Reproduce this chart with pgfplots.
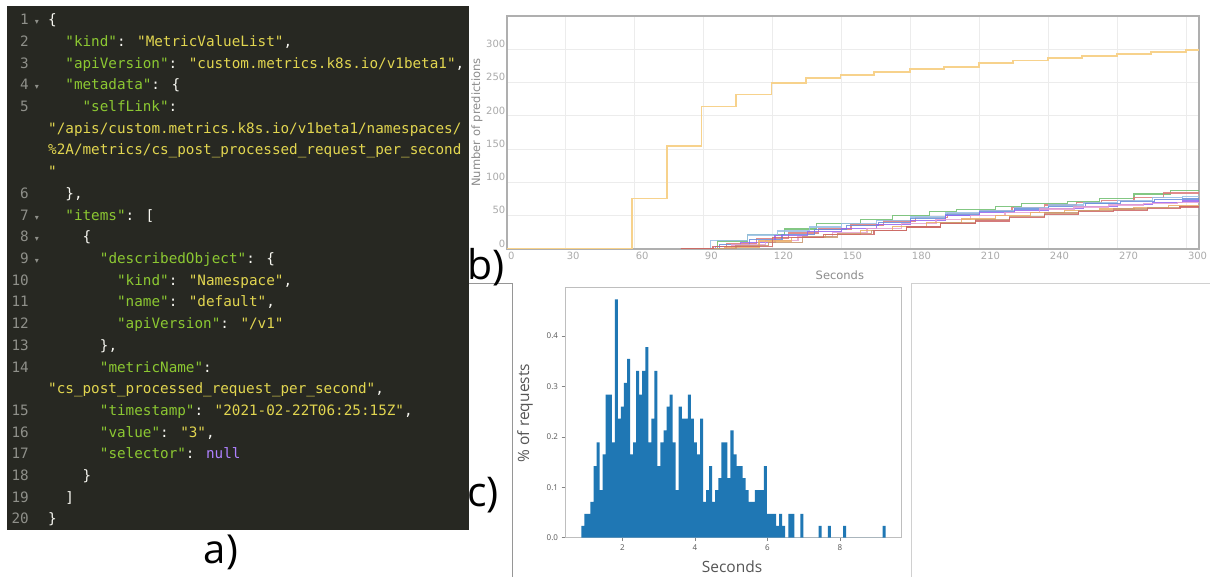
\documentclass[border=0pt]{standalone}
\usepackage{fontspec}
\usepackage{pgfplots}
\pgfplotsset{compat=1.18}
\setmainfont{DejaVu Sans}
\newfontfamily\codefont{DejaVu Sans Mono}
\newfontfamily\dejavu{DejaVu Sans}
\newfontfamily\opensans{Open Sans}
\definecolor{codebg}{HTML}{272822}
\definecolor{codekey}{RGB}{140,200,50}
\definecolor{codestr}{RGB}{226,214,80}
\definecolor{codenull}{RGB}{174,129,255}
\definecolor{codepun}{HTML}{F8F8F2}
\definecolor{codenum}{HTML}{8F908A}
\definecolor{frameA}{RGB}{150,150,150}
\definecolor{frameB}{RGB}{208,208,208}
\definecolor{btick}{RGB}{170,170,170}
\definecolor{blabel}{RGB}{140,140,140}
\definecolor{bspine}{RGB}{175,175,175}
\definecolor{bgrid}{RGB}{236,236,236}
\definecolor{cyell}{RGB}{247,210,140}
\definecolor{cgreen}{RGB}{110,190,110}
\definecolor{cred}{RGB}{220,120,120}
\definecolor{clblue}{RGB}{150,190,230}
\definecolor{cblue}{RGB}{100,140,220}
\definecolor{cpurple}{RGB}{150,100,240}
\definecolor{cpink}{RGB}{230,160,210}
\definecolor{corange}{RGB}{235,175,100}
\definecolor{cbrown}{RGB}{200,150,110}
\definecolor{cdred}{RGB}{205,100,100}
\definecolor{mplblue}{HTML}{1F77B4}
\definecolor{ctext}{RGB}{85,85,85}
\definecolor{cspine}{RGB}{190,190,190}
\newcommand{\K}[1]{\textcolor{codekey}{#1}}
\newcommand{\St}[1]{\textcolor{codestr}{#1}}
\newcommand{\Pu}[1]{\textcolor{codepun}{#1}}
\newcommand{\Nu}[1]{\textcolor{codenull}{#1}}
\newcommand{\cl}[3]{\node[anchor=base west,inner sep=0pt,font=\codefont\fontsize{14.3}{16}\selectfont] at (#2pt,-#1pt) {#3};}
\newcommand{\lnum}[2]{\node[anchor=base east,inner sep=0pt,font=\codefont\fontsize{14.3}{16}\selectfont,text=codenum] at (29pt,-#1pt) {#2};}
\newcommand{\fd}[1]{\node[anchor=base,inner sep=0pt,font=\dejavu\fontsize{8}{9}\selectfont,text=codenum] at (37pt,-#1pt) {▾};}
\begin{document}
\begin{tikzpicture}
\useasboundingbox[fill=white] (0pt,0pt) rectangle (1210pt,-577pt);
% ---------- panel a ----------
\fill[codebg] (7pt,-6pt) rectangle (469pt,-530pt);
\lnum{24.8}{1}\fd{24.8}\cl{24.8}{48}{\Pu{\{}}
\lnum{46.5}{2}\cl{46.5}{65.2}{\K{"kind"}\Pu{: }\St{"MetricValueList"}\Pu{,}}
\lnum{68.2}{3}\cl{68.2}{65.2}{\K{"apiVersion"}\Pu{: }\St{"custom.metrics.k8s.io/v1beta1"}\Pu{,}}
\lnum{89.9}{4}\fd{89.9}\cl{89.9}{65.2}{\K{"metadata"}\Pu{: \{}}
\lnum{111.6}{5}\cl{111.6}{82.4}{\K{"selfLink"}\Pu{:}}
\cl{133.3}{48}{\St{"/apis/custom.metrics.k8s.io/v1beta1/namespaces/}}
\cl{155.0}{48}{\St{\%2A/metrics/cs\_post\_processed\_request\_per\_second}}
\cl{176.7}{48}{\St{"}}
\lnum{198.4}{6}\cl{198.4}{65.2}{\Pu{\},}}
\lnum{220.1}{7}\fd{220.1}\cl{220.1}{65.2}{\K{"items"}\Pu{: [}}
\lnum{241.8}{8}\fd{241.8}\cl{241.8}{82.4}{\Pu{\{}}
\lnum{263.5}{9}\fd{263.5}\cl{263.5}{99.7}{\K{"describedObject"}\Pu{: \{}}
\lnum{285.2}{10}\cl{285.2}{116.9}{\K{"kind"}\Pu{: }\St{"Namespace"}\Pu{,}}
\lnum{306.9}{11}\cl{306.9}{116.9}{\K{"name"}\Pu{: }\St{"default"}\Pu{,}}
\lnum{328.6}{12}\cl{328.6}{116.9}{\K{"apiVersion"}\Pu{: }\St{"/v1"}}
\lnum{350.3}{13}\cl{350.3}{99.7}{\Pu{\},}}
\lnum{372.0}{14}\cl{372.0}{99.7}{\K{"metricName"}\Pu{:}}
\cl{393.7}{48}{\St{"cs\_post\_processed\_request\_per\_second"}\Pu{,}}
\lnum{415.4}{15}\cl{415.4}{99.7}{\K{"timestamp"}\Pu{: }\St{"2021-02-22T06:25:15Z"}\Pu{,}}
\lnum{437.1}{16}\cl{437.1}{99.7}{\K{"value"}\Pu{: }\St{"3"}\Pu{,}}
\lnum{458.8}{17}\cl{458.8}{99.7}{\K{"selector"}\Pu{: }\Nu{null}}
\lnum{480.5}{18}\cl{480.5}{82.4}{\Pu{\}}}
\lnum{502.2}{19}\cl{502.2}{65.2}{\Pu{]}}
\lnum{523.9}{20}\cl{523.9}{48}{\Pu{\}}}
\node[anchor=base,inner sep=0pt,font=\opensans\fontsize{40}{40}\selectfont] at (221pt,-563.5pt) {a)};
% ---------- frames ----------
\draw[frameA,line width=0.8pt] (469pt,-283pt) -- (512.7pt,-283pt) -- (512.7pt,-577pt);
\draw[frameB,line width=0.8pt] (911.7pt,-577pt) -- (911.7pt,-283pt) -- (1210pt,-283pt);
% ---------- panel b ----------
\begin{axis}[
  at={(507pt,-16pt)}, anchor=north west,
  scale only axis, width=692pt, height=233pt,
  xmin=4.5, xmax=305.3, ymin=0, ymax=350,
  xtick={30,60,...,300}, ytick={0,50,...,300},
  extra x ticks={4.5}, extra x tick labels={0},
  extra x tick style={grid=none},
  /pgf/number format/assume math mode=true,
  grid=major, grid style={bgrid, line width=0.8pt},
  major tick length=0pt,
  axis line style={bspine, line width=1.5pt},
  tick label style={font=\dejavu\fontsize{10}{12}\selectfont, text=btick},
  xticklabel style={anchor=north west, inner sep=1pt, yshift=-2pt},
  yticklabel style={anchor=south east, inner sep=1.5pt},
  xlabel={Seconds}, ylabel={Number of predictions},
  label style={font=\dejavu\fontsize{11.5}{13}\selectfont, text=blabel},
  xlabel style={at={(axis description cs:0.481,-0.112)}, anchor=center},
  ylabel style={at={(axis description cs:-0.0434,0.543)}, anchor=center},
  clip=true,
]
\addplot[const plot, cgreen, line width=1.2pt, opacity=0.85] coordinates {(80,0) (96,12) (109,22) (125,30) (139,38) (158,44) (172,50) (188,56) (200,59) (217,64) (228,68) (248,71.5) (262,75.6) (277,82.6) (293,88) (305.3,88)};
\addplot[const plot, cred, line width=1.2pt, opacity=0.85] coordinates {(80,0) (100,8) (113,16) (127,24) (140,30) (154,36) (168,42) (182,47) (196,53) (210,58) (224,62) (238,66) (252,70) (263,72.5) (277,77) (290,84) (305.3,84)};
\addplot[const plot, clblue, line width=1.2pt, opacity=0.85] coordinates {(80,0) (93,13) (109,21) (122,27) (136,33) (150,38) (165,43) (180,48) (195,54) (210,58) (225,62) (240,66) (255,69) (270,73) (285,77) (298,79) (305.3,79)};
\addplot[const plot, cblue, line width=1.2pt, opacity=0.85] coordinates {(80,0) (97,7) (110,14) (124,22) (138,29) (152,35) (166,40) (180,46) (195,51) (210,56) (225,60) (240,64) (256,68) (271,71) (286,74) (298,75) (305.3,75)};
\addplot[const plot, cpurple, line width=1.2pt, opacity=0.85] coordinates {(80,0) (95,4) (106,10) (121,20) (135,26) (150,31) (165,37) (180,43) (195,50) (210,55) (225,58) (240,61) (255,64) (270,67) (285,70) (298,72) (305.3,72)};
\addplot[const plot, cpink, line width=1.2pt, opacity=0.85] coordinates {(80,0) (102,6) (117,13) (131,19) (146,25) (161,31) (176,38) (191,44) (206,50) (221,55) (236,60) (251,63) (266,66) (281,68) (296,70) (305.3,70)};
\addplot[const plot, corange, line width=1.2pt, opacity=0.85] coordinates {(80,0) (99,3) (114,12) (128,17) (143,22) (158,28) (172,34) (187,40) (202,45) (217,50) (232,55) (247,58) (262,60) (277,62) (292,65) (305.3,65)};
\addplot[const plot, cbrown, line width=1.2pt, opacity=0.85] coordinates {(80,0) (104,5) (118,10) (133,18) (148,23) (163,28) (178,33) (193,39) (208,44) (223,49) (238,54) (253,58) (268,60) (283,62) (297,64) (305.3,64)};
\addplot[const plot, cdred, line width=1.2pt, opacity=0.85] coordinates {(80,0) (94,4) (120,17) (142,22) (164,28) (178,33) (193,38) (208,42) (223,47) (238,52) (253,56) (268,58) (283,61) (297,63) (305.3,63)};
\addplot[const plot, cyell, line width=1.8pt] coordinates {(4.5,0) (59,76) (74,155) (89,214) (104,232) (119.5,249) (134.5,257) (149.5,261) (164,266) (179.5,270) (194.5,273) (209.5,279) (224.5,283) (239.5,287) (254.5,290) (269.5,293) (284.5,296) (299.5,299) (305.3,299)};
\end{axis}
\node[anchor=base west,inner sep=0pt,font=\opensans\fontsize{41}{41}\selectfont] at (467pt,-280pt) {b)};
% ---------- panel c ----------
\begin{axis}[
  at={(565pt,-287pt)}, anchor=north west,
  scale only axis, width=336.7pt, height=250.7pt,
  xmin=0.42, xmax=9.70, ymin=0, ymax=0.497,
  xtick={2,4,6,8}, ytick={0,0.1,0.2,0.3,0.4},
  /pgf/number format/assume math mode=true,
  yticklabel style={/pgf/number format/.cd, fixed, fixed zerofill, precision=1},
  tick align=outside, tick pos=left, major tick length=3.5pt,
  tick style={cspine!70!black, line width=0.6pt},
  axis line style={cspine, line width=0.8pt},
  tick label style={font=\opensans\fontsize{8}{9}\selectfont, text=ctext},
  xlabel={Seconds}, ylabel={\% of requests},
  label style={font=\opensans\fontsize{15.5}{17}\selectfont, text=ctext},
  xlabel style={at={(axis description cs:0.496,-0.117)}, anchor=center},
  ylabel style={at={(axis description cs:-0.119,0.497)}, anchor=center},
]
\addplot[ybar interval, fill=mplblue, draw=none] coordinates {
(0.8710,0.0236) (0.9549,0.0472) (1.0387,0.0472) (1.1226,0.0709) (1.2064,0.1417)
(1.2903,0.1890) (1.3742,0.0945) (1.4580,0.1653) (1.5419,0.2834) (1.6257,0.2834)
(1.7096,0.1890) (1.7935,0.4724) (1.8773,0.2362) (1.9612,0.2598) (2.0450,0.3071)
(2.1289,0.3543) (2.2128,0.1653) (2.2966,0.1890) (2.3805,0.3307) (2.4643,0.2834)
(2.5482,0.3307) (2.6321,0.3779) (2.7159,0.1890) (2.7998,0.2362) (2.8836,0.3307)
(2.9675,0.1417) (3.0514,0.1890) (3.1352,0.2126) (3.2191,0.2598) (3.3029,0.2834)
(3.3868,0.1890) (3.4707,0.0945) (3.5545,0.2598) (3.6384,0.2362) (3.7222,0.2362)
(3.8061,0.2834) (3.8900,0.2362) (3.9738,0.1890) (4.0577,0.1653) (4.1415,0.2362)
(4.2254,0.0709) (4.3093,0.0945) (4.3931,0.1417) (4.4770,0.0709) (4.5608,0.0945)
(4.6447,0.1181) (4.7286,0.1890) (4.8124,0.1890) (4.8963,0.1181) (4.9801,0.2126)
(5.0640,0.1653) (5.1479,0.1417) (5.2317,0.1417) (5.3156,0.1181) (5.3994,0.0945)
(5.4833,0.0709) (5.5672,0.0709) (5.6510,0.0945) (5.7349,0.0945) (5.8187,0.0945)
(5.9026,0.1417) (5.9865,0.0472) (6.0703,0.0472) (6.1542,0.0472) (6.2380,0.0236)
(6.3219,0.0472) (6.4058,0.0236) (6.4896,0) (6.5735,0.0472) (6.6573,0.0472)
(6.7412,0) (6.9089,0.0472) (6.9928,0) (7.4121,0.0236) (7.4960,0)
(7.6637,0.0236) (7.7475,0) (8.0830,0.0236) (8.1668,0) (9.1731,0.0236) (9.2570,0)
};
\end{axis}
\node[anchor=base west,inner sep=0pt,font=\opensans\fontsize{41}{41}\selectfont] at (467pt,-506pt) {c)};
\end{tikzpicture}
\end{document}
